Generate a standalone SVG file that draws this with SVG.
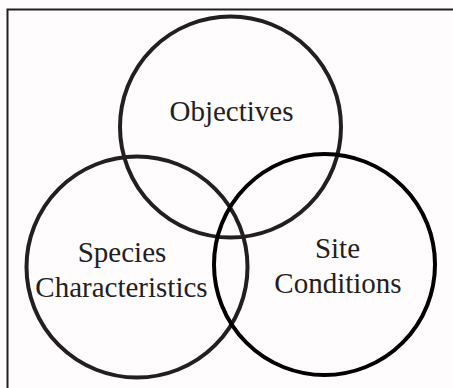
<svg xmlns="http://www.w3.org/2000/svg" width="453" height="388" viewBox="0 0 453 388">
<style>
.c{fill:none;stroke:#231f20;stroke-width:4}
.t{font-family:"Liberation Serif","Times New Roman",serif;font-size:29px;fill:#231f20;text-anchor:middle}
</style>
<rect width="453" height="388" fill="#fefcfd"/>
<path d="M7.5,388 V9.5 H453" fill="none" stroke="#231f20" stroke-width="2"/>
<g id="objectives">
<circle class="c" cx="230.5" cy="127" r="110.5"/>
<text class="t" x="231.5" y="121">Objectives</text>
</g>
<g id="species">
<circle class="c" cx="137" cy="267" r="110.5"/>
<text class="t" x="122" y="262">Species</text>
<text class="t" x="121.5" y="297">Characteristics</text>
</g>
<g id="site">
<circle class="c" cx="324.5" cy="264.5" r="110.5" style="stroke:#000"/>
<text class="t" x="337.5" y="258">Site</text>
<text class="t" x="338" y="293">Conditions</text>
</g>
<g id="connectors"/>
</svg>
